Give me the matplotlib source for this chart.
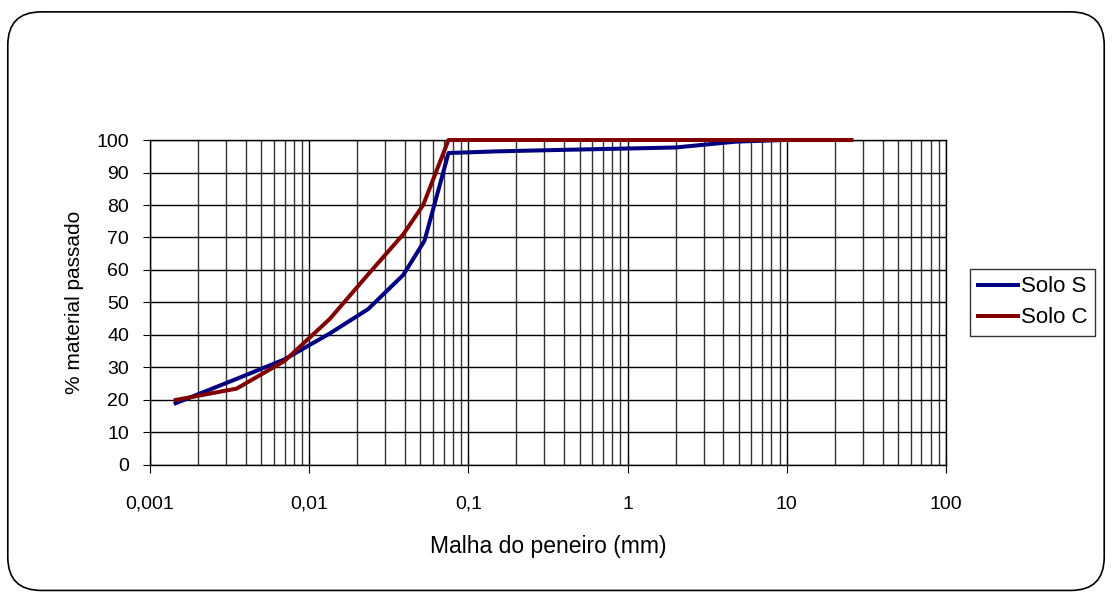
import matplotlib.pyplot as plt
from matplotlib.patches import FancyBboxPatch
from matplotlib.ticker import FixedLocator, LogLocator, NullFormatter

plt.rcParams['font.family'] = ['Liberation Sans', 'DejaVu Sans']

#%% Data #####################################################################
x_solo_s = [0.00145, 0.0035, 0.007, 0.0135, 0.0235, 0.039, 0.053, 0.075,
            0.15, 0.42, 0.84, 2.0, 4.8, 9.5, 19.0, 25.4]
y_solo_s = [19, 26.5, 32.5, 40.5, 48, 58.5, 69, 96,
            96.5, 97, 97.3, 97.7, 99.5, 100, 100, 100]

x_solo_c = [0.00145, 0.0035, 0.007, 0.0135, 0.0235, 0.039, 0.052, 0.075,
            0.15, 0.42, 0.84, 2.0, 4.8, 9.5, 19.0, 25.4]
y_solo_c = [20, 23.5, 32, 45, 58.7, 71, 80, 100,
            100, 100, 100, 100, 100, 100, 100, 100]

xticks = [0.001, 0.01, 0.1, 1, 10, 100]
xtick_labels = ['0,001', '0,01', '0,1', '1', '10', '100']
yticks = list(range(0, 101, 10))

#%% Plot #####################################################################
fig = plt.figure(figsize=(11.12, 5.94), dpi=100)
fig.patches.append(FancyBboxPatch((0.007, 0.006), 0.986, 0.974,
                                  boxstyle="round,pad=0,rounding_size=0.03",
                                  transform=fig.transFigure, fill=False,
                                  edgecolor='black', linewidth=1.2,
                                  mutation_aspect=1112/594))

ax = fig.add_axes([0.1349, 0.2172, 0.7158, 0.5471])
ax.plot(x_solo_s, y_solo_s, color='#000080', lw=2.9, label='Solo S',
        clip_on=False, zorder=3)
ax.plot(x_solo_c, y_solo_c, color='#800000', lw=2.9, label='Solo C',
        clip_on=False, zorder=3)

ax.set_xscale('log')
ax.set_xlim(0.001, 100)
ax.set_ylim(0, 100)
ax.xaxis.set_major_locator(FixedLocator(xticks))
ax.set_xticklabels(xtick_labels)
ax.xaxis.set_minor_locator(LogLocator(base=10, subs=range(2, 10), numticks=20))
ax.xaxis.set_minor_formatter(NullFormatter())
ax.set_yticks(yticks)

ax.grid(which='major', color='black', lw=1.0)
ax.grid(which='minor', axis='x', color='#333333', lw=1.0)
ax.tick_params(axis='x', which='major', direction='inout', length=12,
               labelsize=14, pad=16)
ax.tick_params(axis='x', which='minor', length=0)
ax.tick_params(axis='y', direction='out', length=5, labelsize=14, pad=10)
for s in ax.spines.values():
    s.set_linewidth(1.0)

ax.set_xlabel("Malha do peneiro (mm)", fontsize=16.5, labelpad=16)
ax.set_ylabel("% material passado", fontsize=15, labelpad=9)

leg = ax.legend(loc='center left', bbox_to_anchor=(1.03, 0.5), fontsize=16,
                frameon=True, fancybox=False, edgecolor='black',
                handlelength=1.8, handletextpad=0.15, borderpad=0.35,
                labelspacing=0.45, borderaxespad=0)
leg.get_frame().set_linewidth(1.0)

fig.savefig('out.png', dpi=100)
